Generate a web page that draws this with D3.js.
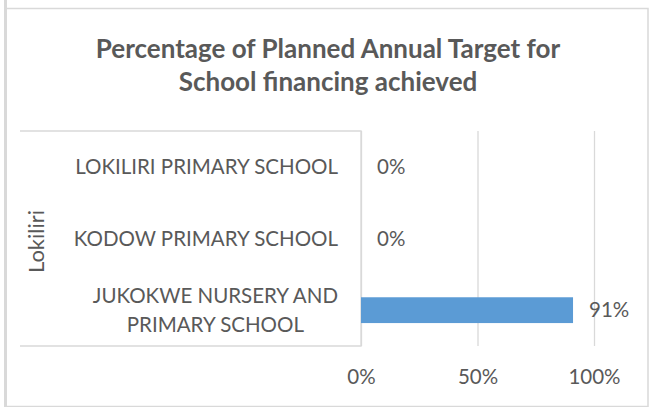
<!DOCTYPE html>
<html>
<head>
<meta charset="utf-8">
<script src="https://cdn.jsdelivr.net/npm/d3@7/dist/d3.min.js"></script>
<style>
  html, body { margin: 0; padding: 0; background: #ffffff; }
  svg { display: block; }
  text { font-family: Lato, "Open Sans", sans-serif; fill: #595959; }
</style>
</head>
<body>
<svg id="chart" width="652" height="407"></svg>
<script>
// ---- data ----
const titleLines = ["Percentage of Planned Annual Target for", "School financing achieved"];
const groupLabel = "Lokiliri";
const categories = ["LOKILIRI PRIMARY SCHOOL", "KODOW PRIMARY SCHOOL", "JUKOKWE NURSERY AND PRIMARY SCHOOL"];
const values = [0, 0, 0.91];
const tickValues = [0, 0.5, 1];

// ---- layout ----
const W = 652, H = 407;
const plot = { left: 361, right: 594, top: 131, bottom: 346 };
const boxLeft = 20;
const labelFont = 20.5;
const gridColor = "#d9d9d9";

const svg = d3.select("#chart");

// outer border
svg.append("line").attr("x1", 5.5).attr("x2", 5.5).attr("y1", 0).attr("y2", H)
  .attr("stroke", gridColor).attr("stroke-width", 3);
svg.append("rect").attr("x", 6).attr("y", 8.5).attr("width", 642).attr("height", 398)
  .attr("fill", "none").attr("stroke", gridColor).attr("stroke-width", 1.5);

// title
svg.append("text")
  .attr("text-anchor", "middle")
  .style("font-weight", "bold")
  .style("font-size", "26px")
  .selectAll("tspan").data(titleLines).join("tspan")
  .attr("x", 328)
  .attr("y", (d, i) => 57.5 + i * 33)
  .text(d => d);

// scales
const x = d3.scaleLinear().domain([0, 1]).range([plot.left, plot.right]);
const y = d3.scaleBand().domain(categories).range([plot.top, plot.bottom])
  .paddingInner(0.64).paddingOuter(0.32);

// gridlines
const grid = svg.append("g").attr("transform", `translate(0,${plot.bottom})`)
  .call(d3.axisBottom(x).tickValues(tickValues).tickSize(-(plot.bottom - plot.top)).tickFormat(""));
grid.select(".domain").remove();
grid.selectAll(".tick line").attr("stroke", gridColor).attr("stroke-width", 1.3);

// tick labels
const ax = svg.append("g").attr("transform", `translate(0,${plot.bottom})`)
  .call(d3.axisBottom(x).tickValues(tickValues).tickSize(0).tickFormat(d3.format(".0%")));
ax.select(".domain").remove();
ax.selectAll("text").attr("y", 38).attr("dy", null)
  .style("font-family", "Lato, sans-serif").style("font-size", labelFont + "px").attr("fill", "#595959");

// category axis box
svg.append("path")
  .attr("d", `M${boxLeft},${plot.top}H${plot.left}V${plot.bottom}H${boxLeft}`)
  .attr("fill", "none").attr("stroke", gridColor).attr("stroke-width", 1.3);

// bars
svg.append("g").selectAll("rect").data(categories).join("rect")
  .attr("x", x(0))
  .attr("y", d => y(d))
  .attr("width", (d, i) => x(values[i]) - x(0))
  .attr("height", y.bandwidth())
  .attr("fill", "#5b9bd5");

// data labels
svg.append("g").selectAll("text").data(categories).join("text")
  .attr("x", (d, i) => x(values[i]) + 16)
  .attr("y", d => y(d) + y.bandwidth() / 2)
  .attr("dy", "0.35em")
  .style("font-size", labelFont + "px")
  .text((d, i) => d3.format(".0%")(values[i]));

// category labels (wrapped, block right-aligned, lines centered)
const labelRight = 338;
const maxW = 290;
const lineH = 28.5;
const gLab = svg.append("g");
categories.forEach(cat => {
  const cy = y(cat) + y.bandwidth() / 2;
  const t = gLab.append("text").style("font-size", labelFont + "px").attr("text-anchor", "middle");
  const words = cat.split(" ");
  const lines = [];
  let cur = [];
  const probe = svg.append("text").style("font-size", labelFont + "px");
  words.forEach(w => {
    const test = cur.concat([w]).join(" ");
    probe.text(test);
    if (probe.node().getComputedTextLength() > maxW && cur.length) {
      lines.push(cur.join(" "));
      cur = [w];
    } else cur.push(w);
  });
  if (cur.length) lines.push(cur.join(" "));
  let widest = 0;
  lines.forEach(l => { probe.text(l); widest = Math.max(widest, probe.node().getComputedTextLength()); });
  probe.remove();
  const cx = labelRight - widest / 2;
  const y0 = cy - (lines.length - 1) * lineH / 2;
  lines.forEach((l, i) => {
    t.append("tspan").attr("x", cx).attr("y", y0 + i * lineH).attr("dy", "0.35em").text(l);
  });
});

// group label (rotated)
svg.append("text")
  .attr("transform", `translate(44,${(plot.top + plot.bottom) / 2 + 3}) rotate(-90)`)
  .attr("text-anchor", "middle")
  .style("font-size", "22px")
  .text(groupLabel);
</script>
</body>
</html>
